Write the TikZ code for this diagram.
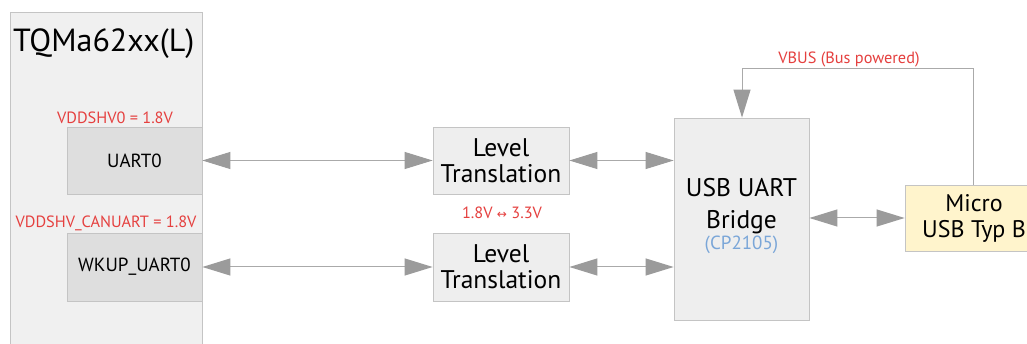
\documentclass[tikz,border=0pt]{standalone}
\usepackage{fontspec}
\setmainfont{PT Sans}
\newfontfamily\symfont{DejaVu Sans}
\usetikzlibrary{arrows.meta}
\definecolor{linegray}{HTML}{AAAAAA}
\definecolor{arrgray}{HTML}{9B9B9B}
\definecolor{boxborder}{HTML}{C4C4C4}
\definecolor{outerfill}{HTML}{F0F0F0}
\definecolor{innerfill}{HTML}{DEDEDE}
\definecolor{ltfill}{HTML}{EEEEEE}
\definecolor{yellowfill}{HTML}{FFF4CC}
\definecolor{redtxt}{HTML}{E5403F}
\definecolor{bluetxt}{HTML}{7AA6D8}
\tikzset{
  box/.style={draw=boxborder, line width=0.8pt, inner sep=0pt},
  conn/.style={draw=linegray, line width=1pt,
    {Triangle[length=28pt,width=17pt,color=arrgray]}-{Triangle[length=28pt,width=17pt,color=arrgray]}},
  oneway/.style={draw=linegray, line width=1pt, -{Triangle[length=28pt,width=17pt,color=arrgray]}},
  redlbl/.style={text=redtxt, font=\fontsize{16.3}{17}\selectfont, inner sep=0pt},
}
\begin{document}
\begin{tikzpicture}[x=1pt,y=-1pt]
\useasboundingbox (0,0) rectangle (1027,344);
\clip (0,0) rectangle (1027,344);
\fill[white] (0,0) rectangle (1027,344);
% outer module
\node[box, fill=outerfill, minimum width=192pt, minimum height=350pt] (mod) at (106,187) {};
\node[anchor=base west, inner sep=0pt, font=\fontsize{32}{32}\selectfont] (title) at (13,52) {TQMa62xx(L)};
% UART boxes
\node[box, fill=innerfill, minimum width=135pt, minimum height=67pt, font=\fontsize{19}{19}\selectfont] (uart) at (134.5,160.5) {UART0};
\node[box, fill=innerfill, minimum width=135pt, minimum height=68pt, font=\fontsize{19}{19}\selectfont] (wkup) at (134.5,267) {WKUP\_UART0};
\node[redlbl] (v1) at (115,118) {VDDSHV0 = 1.8V};
\node[redlbl] (v2) at (106,223) {VDDSHV\_CANUART = 1.8V};
% level translation
\node[box, fill=ltfill, minimum width=136pt, minimum height=67pt, align=center, font=\fontsize{25.5}{26}\selectfont] (lt1) at (501,160.5) {Level\\Translation};
\node[box, fill=ltfill, minimum width=136pt, minimum height=68pt, align=center, font=\fontsize{25.5}{26}\selectfont] (lt2) at (501,267) {Level\\Translation};
\node[redlbl] (lvl) at (502,213) {1.8V {\symfont\fontsize{12}{12}\selectfont ↔} 3.3V};
% bridge
\node[box, fill=ltfill, minimum width=135pt, minimum height=202pt] (br) at (741.5,219) {};
\node[align=center, inner sep=0pt, font=\fontsize{25.5}{32}\selectfont] (brtxt) at (741.5,206) {USB UART\\Bridge};
\node[inner sep=0pt, text=bluetxt, font=\fontsize{19}{19}\selectfont] (cp) at (741.5,245) {(CP2105)};
% micro usb
\node[box, fill=yellowfill, minimum width=138pt, minimum height=66pt, align=center, font=\fontsize{24}{26}\selectfont] (usb) at (974,218.5) {Micro\\USB Typ B};
% connectors
\draw[conn] (uart.east) -- (lt1.west);
\draw[conn] (wkup.east) -- (lt2.west);
\draw[conn] (lt1.east) -- (lt1.east -| br.west);
\draw[conn] (lt2.east) -- (lt2.east -| br.west);
\draw[conn] (br.east |- 0,218) -- (usb.west |- 0,218);
\coordinate (vtop1) at (973,69);
\coordinate (vtop2) at (742,69);
\draw[oneway] (usb.north -| vtop1) -- (vtop1) -- (vtop2) -- (vtop2 |- br.north);
\node[redlbl] (vbus) at (849,59) {VBUS (Bus powered)};
\end{tikzpicture}
\end{document}
